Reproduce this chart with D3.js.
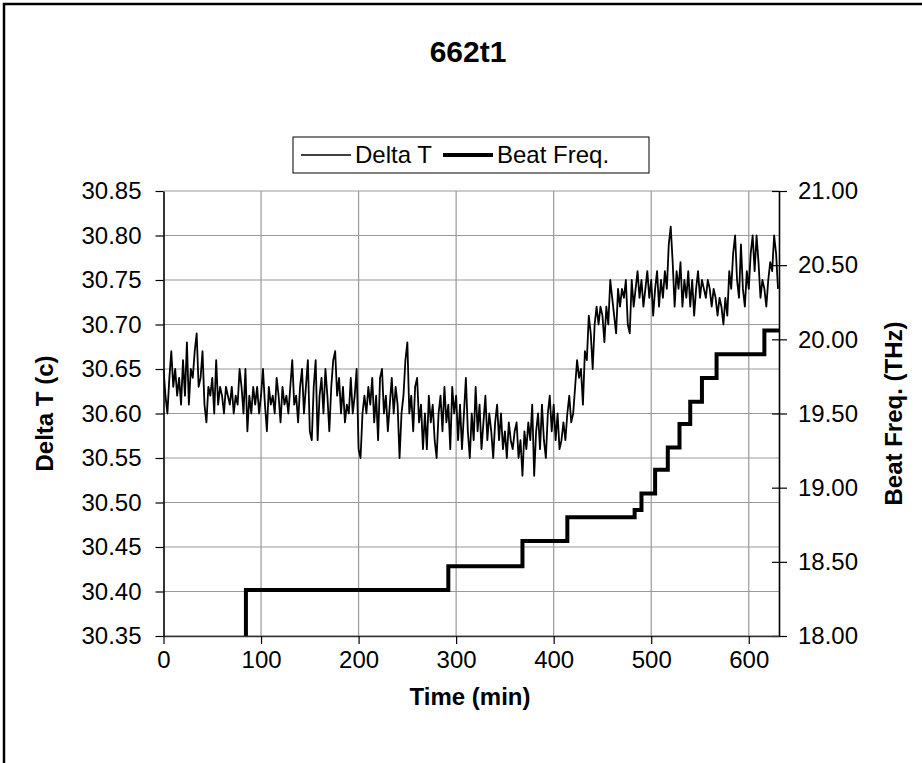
<!DOCTYPE html>
<html>
<head>
<meta charset="utf-8">
<title>662t1</title>
<script src="https://d3js.org/d3.v7.min.js"></script>
<style>
  body { margin: 0; background: #fff; }
  svg text { font-family: "Liberation Sans", Arial, sans-serif; fill: #000; }
</style>
</head>
<body>
<div id="chart"></div>
<script>
// ---- data ----
var chartTitle = "662t1";
var timeTicks = [0, 100, 200, 300, 400, 500, 600];
var deltaTicks = [30.35, 30.40, 30.45, 30.50, 30.55, 30.60, 30.65, 30.70, 30.75, 30.80, 30.85];
var beatTicks = [18.00, 18.50, 19.00, 19.50, 20.00, 20.50, 21.00];

// Delta T (c), one reading every 2 min starting at t = 0
var sampleStep = 2;
var deltaT = [
  30.65, 30.62, 30.60, 30.64, 30.67, 30.63, 30.65, 30.62, 30.64, 30.61,
  30.66, 30.62, 30.68, 30.61, 30.65, 30.64, 30.67, 30.69, 30.63, 30.64,
  30.67, 30.61, 30.59, 30.63, 30.62, 30.64, 30.60, 30.66, 30.61, 30.63,
  30.62, 30.60, 30.63, 30.62, 30.61, 30.63, 30.60, 30.62, 30.61, 30.65,
  30.63, 30.60, 30.65, 30.58, 30.62, 30.60, 30.63, 30.61, 30.63, 30.60,
  30.62, 30.65, 30.61, 30.58, 30.63, 30.61, 30.62, 30.60, 30.64, 30.62,
  30.59, 30.63, 30.61, 30.62, 30.60, 30.63, 30.66, 30.61, 30.62, 30.59,
  30.63, 30.65, 30.60, 30.63, 30.66, 30.58, 30.57, 30.63, 30.66, 30.57,
  30.62, 30.64, 30.60, 30.65, 30.62, 30.58, 30.63, 30.66, 30.67, 30.62,
  30.64, 30.60, 30.63, 30.59, 30.61, 30.60, 30.64, 30.60, 30.62, 30.65,
  30.56, 30.55, 30.60, 30.62, 30.60, 30.63, 30.61, 30.64, 30.59, 30.62,
  30.57, 30.64, 30.65, 30.60, 30.62, 30.58, 30.61, 30.64, 30.60, 30.63,
  30.61, 30.55, 30.60, 30.62, 30.66, 30.68, 30.60, 30.62, 30.58, 30.63,
  30.64, 30.59, 30.61, 30.56, 30.60, 30.56, 30.62, 30.59, 30.61, 30.57,
  30.55, 30.60, 30.62, 30.58, 30.63, 30.59, 30.61, 30.56, 30.63, 30.60,
  30.62, 30.57, 30.61, 30.56, 30.60, 30.64, 30.58, 30.55, 30.60, 30.57,
  30.63, 30.58, 30.61, 30.56, 30.59, 30.62, 30.57, 30.60, 30.58, 30.55,
  30.59, 30.61, 30.57, 30.60, 30.56, 30.58, 30.55, 30.59, 30.57, 30.56,
  30.58, 30.59, 30.55, 30.57, 30.53, 30.58, 30.56, 30.59, 30.57, 30.61,
  30.53, 30.58, 30.60, 30.56, 30.61, 30.57, 30.55, 30.60, 30.62, 30.58,
  30.61, 30.57, 30.60, 30.56, 30.57, 30.59, 30.57, 30.60, 30.62, 30.59,
  30.60, 30.63, 30.66, 30.64, 30.65, 30.61, 30.67, 30.66, 30.71, 30.69,
  30.65, 30.70, 30.72, 30.70, 30.72, 30.71, 30.68, 30.72, 30.70, 30.75,
  30.73, 30.71, 30.69, 30.74, 30.72, 30.74, 30.73, 30.75, 30.70, 30.69,
  30.75, 30.72, 30.74, 30.76, 30.73, 30.75, 30.72, 30.74, 30.76, 30.73,
  30.75, 30.71, 30.74, 30.76, 30.72, 30.75, 30.73, 30.76, 30.74, 30.79,
  30.81, 30.77, 30.72, 30.76, 30.74, 30.77, 30.72, 30.75, 30.73, 30.76,
  30.72, 30.75, 30.71, 30.74, 30.76, 30.73, 30.75, 30.74, 30.73, 30.75,
  30.74, 30.72, 30.74, 30.73, 30.71, 30.73, 30.72, 30.70, 30.73, 30.71,
  30.76, 30.74, 30.78, 30.80, 30.75, 30.73, 30.79, 30.74, 30.72, 30.76,
  30.74, 30.78, 30.80, 30.76, 30.80, 30.77, 30.73, 30.75, 30.74, 30.72,
  30.75, 30.77, 30.76, 30.80, 30.78, 30.74
];

// Beat frequency (THz): time (min) at which each level starts
var beatTimes = [84, 84.5, 292, 368, 414, 483, 490, 504, 517, 529, 540, 552, 567, 616, 631];
var beatFreq  = [18.00, 18.31, 18.47, 18.64, 18.80, 18.85, 18.96, 19.12, 19.27, 19.43, 19.58, 19.74, 19.90, 20.06, 20.06];

// ---- layout ----
var width = 922, height = 763;
var plot = {left: 163.5, right: 779, top: 191, bottom: 636};
var xMax = 631;

var svg = d3.select("#chart").append("svg")
  .attr("width", width)
  .attr("height", height);

// outer chart frame (only top and left edges fall inside the picture)
svg.append("path")
  .attr("d", "M4,770 L4,4 L930,4")
  .attr("fill", "none")
  .attr("stroke", "#000")
  .attr("stroke-width", 2.5);

var x = d3.scaleLinear().domain([0, xMax]).range([plot.left, plot.right]);
var yL = d3.scaleLinear().domain([30.35, 30.85]).range([plot.bottom, plot.top]);
var yR = d3.scaleLinear().domain([18, 21]).range([plot.bottom, plot.top]);

// gridlines
svg.append("g").selectAll("line")
  .data(deltaTicks)
  .enter().append("line")
    .attr("x1", plot.left).attr("x2", plot.right)
    .attr("y1", function(d) { return yL(d); })
    .attr("y2", function(d) { return yL(d); })
    .attr("stroke", "#999").attr("stroke-width", 1.2);

svg.append("g").selectAll("line")
  .data(timeTicks.filter(function(d) { return d > 0; }))
  .enter().append("line")
    .attr("y1", plot.top).attr("y2", plot.bottom)
    .attr("x1", function(d) { return x(d); })
    .attr("x2", function(d) { return x(d); })
    .attr("stroke", "#999").attr("stroke-width", 1.2);

// clip
svg.append("clipPath").attr("id", "clip")
  .append("rect")
    .attr("x", plot.left).attr("y", plot.top - 2)
    .attr("width", plot.right - plot.left)
    .attr("height", plot.bottom - plot.top + 2);

// Delta T line
var deltaLine = d3.line()
  .x(function(d, i) { return x(i * sampleStep); })
  .y(function(d) { return yL(d); });

svg.append("path")
  .datum(deltaT)
  .attr("clip-path", "url(#clip)")
  .attr("fill", "none")
  .attr("stroke", "#000")
  .attr("stroke-width", 1.8)
  .attr("stroke-linejoin", "round")
  .attr("d", deltaLine);

// Beat Freq step line
var beatLine = d3.line()
  .curve(d3.curveStepAfter)
  .x(function(d, i) { return x(beatTimes[i]); })
  .y(function(d) { return yR(d); });

svg.append("path")
  .datum(beatFreq)
  .attr("clip-path", "url(#clip)")
  .attr("fill", "none")
  .attr("stroke", "#000")
  .attr("stroke-width", 4)
  .attr("d", beatLine);

// axes
var fmt = d3.format(".2f");

var leftAxis = svg.append("g")
  .attr("transform", "translate(" + plot.left + ",0)")
  .call(d3.axisLeft(yL).tickValues(deltaTicks).tickFormat(fmt).tickSize(8).tickSizeOuter(0).tickPadding(14));

var rightAxis = svg.append("g")
  .attr("transform", "translate(" + plot.right + ",0)")
  .call(d3.axisRight(yR).tickValues(beatTicks).tickFormat(fmt).tickSize(8).tickSizeOuter(0).tickPadding(11));
rightAxis.selectAll(".tick line").attr("x1", -7);

var bottomAxis = svg.append("g")
  .attr("transform", "translate(0," + plot.bottom + ")")
  .call(d3.axisBottom(x).tickValues(timeTicks).tickFormat(d3.format("d")).tickSize(8).tickSizeOuter(0).tickPadding(7));

[leftAxis, rightAxis, bottomAxis].forEach(function(g) {
  g.select(".domain").attr("stroke", "#000").attr("stroke-width", 1.6);
  g.selectAll(".tick line").attr("stroke", "#000").attr("stroke-width", 1.2);
  g.selectAll(".tick text")
    .style("font-family", "'Liberation Sans', Arial, sans-serif")
    .style("font-size", "24px")
    .attr("fill", "#000");
});
bottomAxis.select(".domain").attr("stroke", "#333");

// titles
svg.append("text")
  .attr("x", 468).attr("y", 62)
  .attr("text-anchor", "middle")
  .style("font-size", "30px").style("font-weight", "bold")
  .text(chartTitle);

svg.append("text")
  .attr("x", 470).attr("y", 705)
  .attr("text-anchor", "middle")
  .style("font-size", "24px").style("font-weight", "bold")
  .text("Time (min)");

svg.append("text")
  .attr("transform", "translate(53," + ((plot.top + plot.bottom) / 2) + ") rotate(-90)")
  .attr("text-anchor", "middle")
  .style("font-size", "24px").style("font-weight", "bold")
  .text("Delta T (c)");

svg.append("text")
  .attr("transform", "translate(902," + ((plot.top + plot.bottom) / 2) + ") rotate(-90)")
  .attr("text-anchor", "middle")
  .style("font-size", "24px").style("font-weight", "bold")
  .text("Beat Freq. (THz)");

// legend
var legend = svg.append("g");
legend.append("rect")
  .attr("x", 293).attr("y", 137)
  .attr("width", 356).attr("height", 36)
  .attr("fill", "#fff").attr("stroke", "#000").attr("stroke-width", 1);

var legendItems = [
  {label: "Delta T", width: 1.6, x0: 301},
  {label: "Beat Freq.", width: 4, x0: 443}
];
legendItems.forEach(function(d) {
  legend.append("line")
    .attr("x1", d.x0).attr("x2", d.x0 + 50)
    .attr("y1", 155).attr("y2", 155)
    .attr("stroke", "#000").attr("stroke-width", d.width);
  legend.append("text")
    .attr("x", d.x0 + 54).attr("y", 163)
    .style("font-size", "24px")
    .text(d.label);
});
</script>
</body>
</html>
